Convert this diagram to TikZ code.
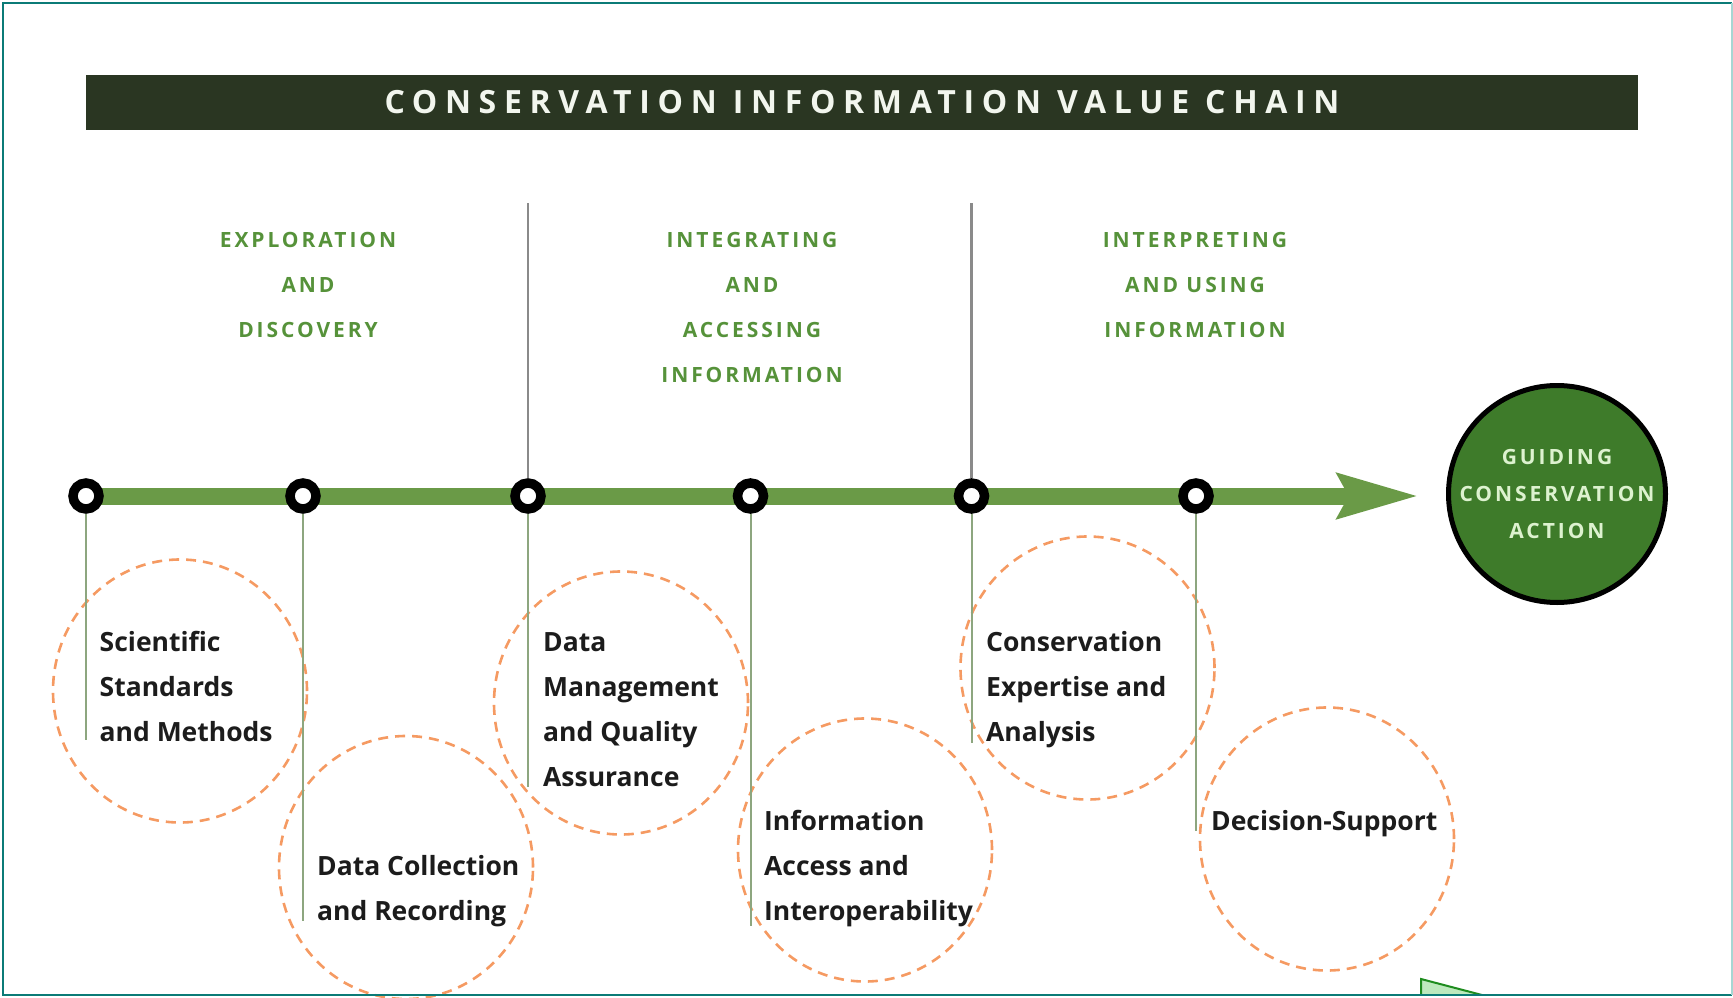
\documentclass[tikz,border=0pt]{standalone}
\usepackage{fontspec}
\setmainfont{Open Sans}
\usetikzlibrary{arrows.meta,backgrounds,shapes.geometric}

\definecolor{framedark}{HTML}{0B7B77}
\definecolor{framelight}{HTML}{A6D6D3}
\definecolor{barbg}{HTML}{2A3622}
\definecolor{bartext}{HTML}{F2F6EE}
\definecolor{headgreen}{HTML}{56923A}
\definecolor{linegreen}{HTML}{6A9A47}
\definecolor{stemgreen}{HTML}{8DA67F}
\definecolor{sepgrey}{HTML}{8A8A8A}
\definecolor{dashorange}{HTML}{F59A62}
\definecolor{goalgreen}{HTML}{3E7B2A}
\definecolor{goaltext}{HTML}{DDF2CF}
\definecolor{labeltext}{HTML}{1C1C1C}
\definecolor{trifill}{HTML}{BDE9BD}
\definecolor{triedge}{HTML}{1E8C1E}

% invisible strut fixing the height of a block's first line
\newcommand\firstline[1]{\rule{0pt}{#1}}

\tikzset{
  titlebar/.style={fill=barbg, minimum width=1552pt, minimum height=55pt,
    inner sep=0pt, text=bartext,
    font=\bfseries\fontsize{32}{32}\selectfont\addfontfeatures{LetterSpace=24}},
  phase/.style={anchor=north, align=center, inner sep=0pt, text=headgreen,
    font=\bfseries\fontsize{21}{45}\selectfont\addfontfeatures{LetterSpace=14}},
  milestone/.style={circle, draw=black, line width=9.5pt, fill=white,
    minimum size=26pt, inner sep=0pt},
  stem/.style={draw=stemgreen, line width=2pt},
  separator/.style={draw=sepgrey, line width=2.6pt},
  timeline/.style={draw=linegreen, line width=17pt,
    -{Stealth[length=80pt,width=43pt,inset=10pt,fill=linegreen]}},
  zone/.style={ellipse, draw=dashorange, line width=2.6pt,
    dash pattern=on 10pt off 7pt, minimum width=254pt, minimum height=263pt,
    inner sep=0pt},
  step label/.style={anchor=north west, align=left, inner sep=0pt, text=labeltext,
    font=\bfseries\fontsize{26.5}{45}\selectfont},
  goal/.style={circle, fill=goalgreen, draw=black, line width=5pt,
    minimum size=217pt, inner sep=0pt, align=center, text=goaltext,
    font=\bfseries\fontsize{21}{37}\selectfont\addfontfeatures{LetterSpace=14}},
}

\begin{document}
\begin{tikzpicture}[x=1pt,y=-1pt]
\useasboundingbox (0,0) rectangle (1733,998);

% heading bar
\node[titlebar] (title) at (862,102.5) {CONSERVATION INFORMATION VALUE CHAIN};

% phase headings
\node[phase] (ph1) at (308,230.5) {\firstline{17pt}EXPLORATION\\AND\\DISCOVERY};
\node[phase] (ph2) at (752,230.5) {\firstline{17pt}INTEGRATING\\AND\\ACCESSING\\INFORMATION};
\node[phase] (ph3) at (1195,230.5) {\firstline{17pt}INTERPRETING\\AND USING\\INFORMATION};

% milestones along the chain
\node[milestone] (m1) at (86,496) {};
\node[milestone] (m2) at (303,496) {};
\node[milestone] (m3) at (528,496) {};
\node[milestone] (m4) at (750.5,496) {};
\node[milestone] (m5) at (971.5,496) {};
\node[milestone] (m6) at (1196,496) {};

% final outcome
\node[goal] (goal) at (1557,494) {GUIDING\\CONSERVATION\\ACTION};

% end points of stems, separators and the arrow
\coordinate (tip) at (1419,496);
\coordinate (s1) at (86,740);
\coordinate (s2) at (303,921);
\coordinate (s3) at (528,787);
\coordinate (s4) at (750.5,926);
\coordinate (s5) at (971.5,743);
\coordinate (s6) at (1196,831);
\coordinate (top3) at (528,203);
\coordinate (top5) at (971.5,203);

\begin{scope}[on background layer]
  % dashed activity zones
  \node[zone] (z1) at (180,691) {};
  \node[zone] (z2) at (406,867.5) {};
  \node[zone] (z3) at (621,703) {};
  \node[zone] (z4) at (865,850) {};
  \node[zone] (z5) at (1087.5,668) {};
  \node[zone] (z6) at (1327,839) {};
  % stems below the milestones
  \draw[stem] (m1.south) -- (s1);
  \draw[stem] (m2.south) -- (s2);
  \draw[stem] (m3.south) -- (s3);
  \draw[stem] (m4.south) -- (s4);
  \draw[stem] (m5.south) -- (s5);
  \draw[stem] (m6.south) -- (s6);
  % phase separators
  \draw[separator] (top3) -- (m3.north);
  \draw[separator] (top5) -- (m5.north);
  % the chain itself
  \draw[timeline] (m1.center) -- (tip);
\end{scope}

% step labels
\node[step label] (l1) at (99.5,630) {\firstline{21pt}Scientific\\Standards\\and Methods};
\node[step label] (l2) at (317,854.5) {\firstline{21pt}Data Collection\\and Recording};
\node[step label] (l3) at (543,630) {\firstline{21pt}Data\\Management\\and Quality\\Assurance};
\node[step label] (l4) at (764,809) {\firstline{21pt}Information\\Access and\\Interoperability};
\node[step label] (l5) at (986,630) {\firstline{21pt}Conservation\\Expertise and\\Analysis};
\node[step label] (l6) at (1211,809) {\firstline{21pt}Decision-Support};

% corner marker, cut by the frame
\fill[trifill] (1421,979) -- (1482,995) -- (1421,995) -- cycle;
\draw[triedge, line width=2pt] (1421,995) -- (1421,979) -- (1482,995);

% frame
\draw[framedark, line width=2.5pt] (1732,3) -- (3,3) -- (3,995) -- (1732,995);
\draw[framelight, line width=2pt] (1732,3) -- (1732,995);
\end{tikzpicture}
\end{document}
